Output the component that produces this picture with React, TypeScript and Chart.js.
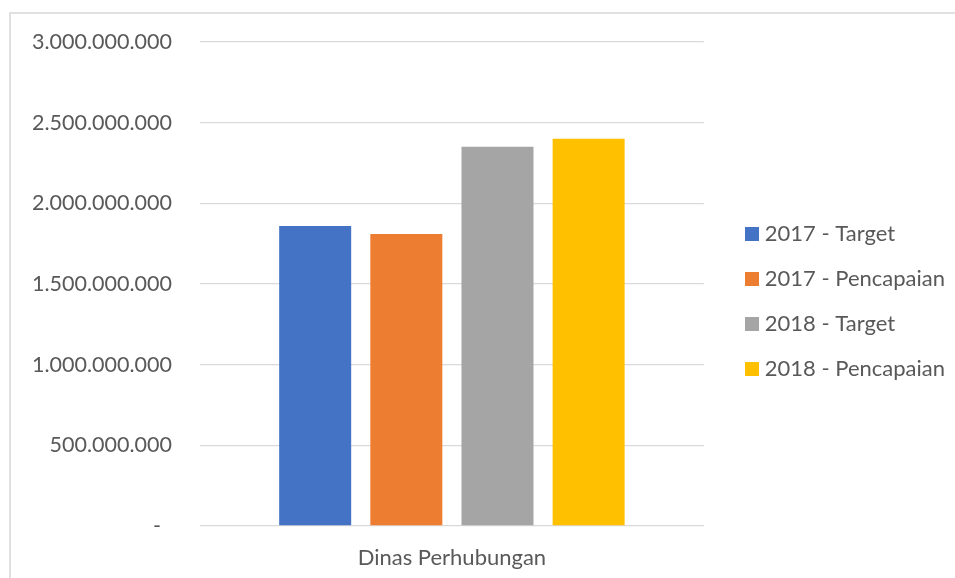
import React, { useEffect, useRef } from 'react';
import { Chart, registerables } from 'chart.js';

Chart.register(...registerables);

// ---- data ----
const categories = ['Dinas Perhubungan'];
const seriesNames = ['2017 - Target', '2017 - Pencapaian', '2018 - Target', '2018 - Pencapaian'];
const target2017 = [1860000000];
const pencapaian2017 = [1810000000];
const target2018 = [2350000000];
const pencapaian2018 = [2400000000];
const seriesValues = [target2017, pencapaian2017, target2018, pencapaian2018];
const seriesColors = ['#4472C4', '#ED7D31', '#A5A5A5', '#FFC000'];
const yMin = 0;
const yMax = 3000000000;
const yStep = 500000000;

const TEXT = '#595959';
const GRID = '#d9d9d9';
const FONT = 'Lato';

function formatTick(v: number): string {
  if (v === 0) return '-  ';
  return String(Math.round(v)).replace(/\B(?=(\d{3})+(?!\d))/g, '.');
}

function makeSwatch(color: string): HTMLCanvasElement {
  const c = document.createElement('canvas');
  c.width = 14;
  c.height = 14;
  const ctx = c.getContext('2d')!;
  ctx.fillStyle = color;
  ctx.fillRect(0, 0, 14, 14);
  return c;
}

export default function App() {
  const ref = useRef<HTMLCanvasElement | null>(null);

  useEffect(() => {
    if (!ref.current) return;
    const swatches = seriesColors.map(makeSwatch);
    const chart = new Chart(ref.current, {
      type: 'bar',
      data: {
        labels: categories,
        datasets: seriesNames.map((name, i) => ({
          label: name,
          data: seriesValues[i],
          backgroundColor: seriesColors[i],
          borderWidth: 0,
          yAxisID: 'y',
          categoryPercentage: 0.7237,
          barPercentage: 0.79,
        })),
      },
      options: {
        animation: false,
        responsive: false,
        maintainAspectRatio: false,
        layout: { padding: { top: 31, bottom: 6, left: 0, right: 0 } },
        plugins: {
          tooltip: { enabled: false },
          title: {
            display: true,
            text: ' ',
            font: { size: 1, lineHeight: 1 },
            padding: { top: 0, bottom: 10 },
          },
          legend: {
            position: 'right',
            maxWidth: 400,
            labels: {
              usePointStyle: true,
              pointStyleWidth: 4,
              boxHeight: 14,
              padding: 23,
              color: TEXT,
              font: { family: FONT, size: 22 },
              generateLabels: (ch: any) =>
                (Chart.defaults.plugins.legend.labels.generateLabels as any)(ch).map((l: any, i: number) => ({
                  ...l,
                  pointStyle: swatches[i],
                })),
            },
          },
        },
        scales: {
          x: {
            grid: { display: false, drawTicks: false },
            border: { display: false },
            ticks: { color: TEXT, font: { family: FONT, size: 22 }, padding: 19 },
            afterFit: (s: any) => { s.height = 46; },
          },
          y: {
            position: 'left',
            min: yMin,
            max: yMax,
            grid: { color: GRID, lineWidth: 1.3, drawTicks: false },
            border: { display: false },
            ticks: {
              stepSize: yStep,
              color: TEXT,
              font: { family: FONT, size: 21.5 },
              padding: 28,
              callback: (v: any) => formatTick(Number(v)),
            },
            afterFit: (s: any) => { s.width = 200; },
          },
          y2: {
            position: 'right',
            grid: { display: false, drawTicks: false },
            border: { display: false },
            ticks: { display: false },
            afterFit: (s: any) => { s.width = 23; },
          },
        },
      } as any,
    });
    return () => chart.destroy();
  }, []);

  return (
    <div style={{ position: 'fixed', left: 0, top: 0, width: 955, height: 578, background: '#fff', overflow: 'hidden' }}>
      <div
        style={{
          position: 'absolute',
          left: 9,
          top: 12,
          width: 1000,
          height: 700,
          borderLeft: '2px solid #e0e0e0',
          borderTop: '2px solid #e0e0e0',
        }}
      />
      <canvas ref={ref} width={955} height={578} style={{ position: 'absolute', left: 0, top: 0, width: 955, height: 578 }} />
    </div>
  );
}
